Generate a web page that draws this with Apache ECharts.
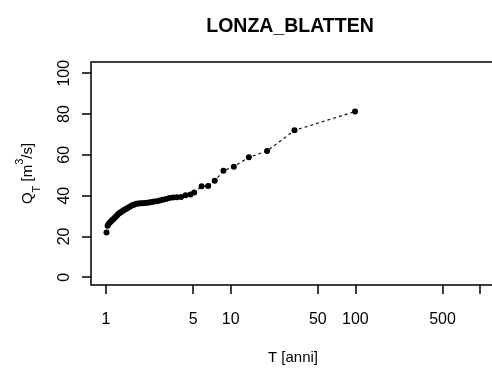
<!DOCTYPE html>
<html>
<head>
<meta charset="utf-8">
<script src="https://cdn.jsdelivr.net/npm/echarts@6/dist/echarts.min.js"></script>
<style>
html,body{margin:0;padding:0;background:#fff;}
#c{width:492px;height:372px;}
</style>
</head>
<body>
<div id="c"></div>
<script>
// Return period T [anni] (ascending) and discharge Q_T [m^3/s]
const T_VALUES = [1.01,1.031,1.053,1.075,1.099,1.124,1.149,1.176,1.205,1.235,
  1.266,1.299,1.333,1.370,1.408,1.449,1.493,1.538,1.587,1.639,
  1.695,1.754,1.818,1.887,1.961,2.041,2.128,2.222,2.326,2.439,
  2.564,2.703,2.857,3.03,3.226,3.448,3.704,4.0,4.348,4.762,
  5.1,5.85,6.6,7.45,8.75,10.6,14.0,19.6,32.5,99.5];
const Q_VALUES = [21.9,25.2,26.2,26.8,27.4,28.0,28.6,29.2,29.8,30.5,
  31.2,31.6,32.1,32.6,33.1,33.5,34.0,34.4,34.9,35.4,
  35.7,36.0,36.2,36.3,36.3,36.4,36.5,36.6,36.9,37.1,
  37.3,37.6,38.0,38.4,38.9,39.1,39.2,39.3,40.2,40.6,
  41.5,44.6,44.7,47.3,52.2,54.2,58.8,61.9,72.0,81.2];
const X_TICKS = [1,5,10,50,100,500,1000];
const X_LABELS = [1,5,10,50,100,500];
const Y_TICKS = [0,20,40,60,80,100];
const TITLE = 'LONZA_BLATTEN';

const lg = v => Math.log10(v);
const data = T_VALUES.map((t,i) => [lg(t), Q_VALUES[i]]);
const FONT = "'Liberation Sans', Arial, sans-serif";

const chart = echarts.init(document.getElementById('c'), null, {renderer:'canvas'});
chart.setOption({
  animation: false,
  backgroundColor: '#fff',
  title: {
    text: TITLE, left: 285, textAlign: 'center', top: 12,
    textStyle: {fontFamily: FONT, fontSize: 19.5, fontWeight: 'bold', color: '#000'}
  },
  grid: {left: 91, top: 62, width: 404, height: 223, show: true,
    outerBoundsMode: 'none', containLabel: false,
    borderColor: '#000', borderWidth: 1.5, backgroundColor: 'transparent'},
  xAxis: {
    type: 'value', min: -0.12, max: 3.12,
    name: 'T [anni]', nameLocation: 'middle', nameGap: 65,
    nameTextStyle: {fontFamily: FONT, fontSize: 15, color: '#000'},
    axisLine: {show: false, onZero: false},
    splitLine: {show: false},
    axisTick: {show: true, inside: false, length: 9, lineStyle: {color: '#000', width: 1.5},
      customValues: X_TICKS.map(lg)},
    axisLabel: {fontFamily: FONT, fontSize: 16, color: '#000', margin: 27,
      customValues: X_LABELS.map(lg),
      formatter: v => String(Math.round(Math.pow(10, v)))}
  },
  yAxis: {
    type: 'value', min: -3.8, max: 105.5,
    name: '{a|Q}{s|T}{a| [m}{p|3}{a|/s]}', nameLocation: 'middle', nameRotate: 90, nameGap: 49,
    nameTextStyle: {fontFamily: FONT, color: '#000',
      rich: {
        a: {fontFamily: FONT, fontSize: 15, color: '#000', lineHeight: 24, verticalAlign: 'middle'},
        s: {fontFamily: FONT, fontSize: 11, color: '#000', lineHeight: 20, verticalAlign: 'bottom'},
        p: {fontFamily: FONT, fontSize: 11, color: '#000', lineHeight: 28, verticalAlign: 'top'}
      }},
    axisLine: {show: false, onZero: false},
    splitLine: {show: false},
    axisTick: {show: true, inside: false, length: 9, lineStyle: {color: '#000', width: 1.5},
      customValues: Y_TICKS},
    axisLabel: {fontFamily: FONT, fontSize: 16, color: '#000', margin: 18.5, rotate: 90,
      customValues: Y_TICKS}
  },
  series: [{
    type: 'line', data: data,
    symbol: 'circle', symbolSize: 6,
    itemStyle: {color: '#000'},
    lineStyle: {color: '#111', width: 1.2, type: [3,3]},
    silent: true
  }]
});
</script>
</body>
</html>
